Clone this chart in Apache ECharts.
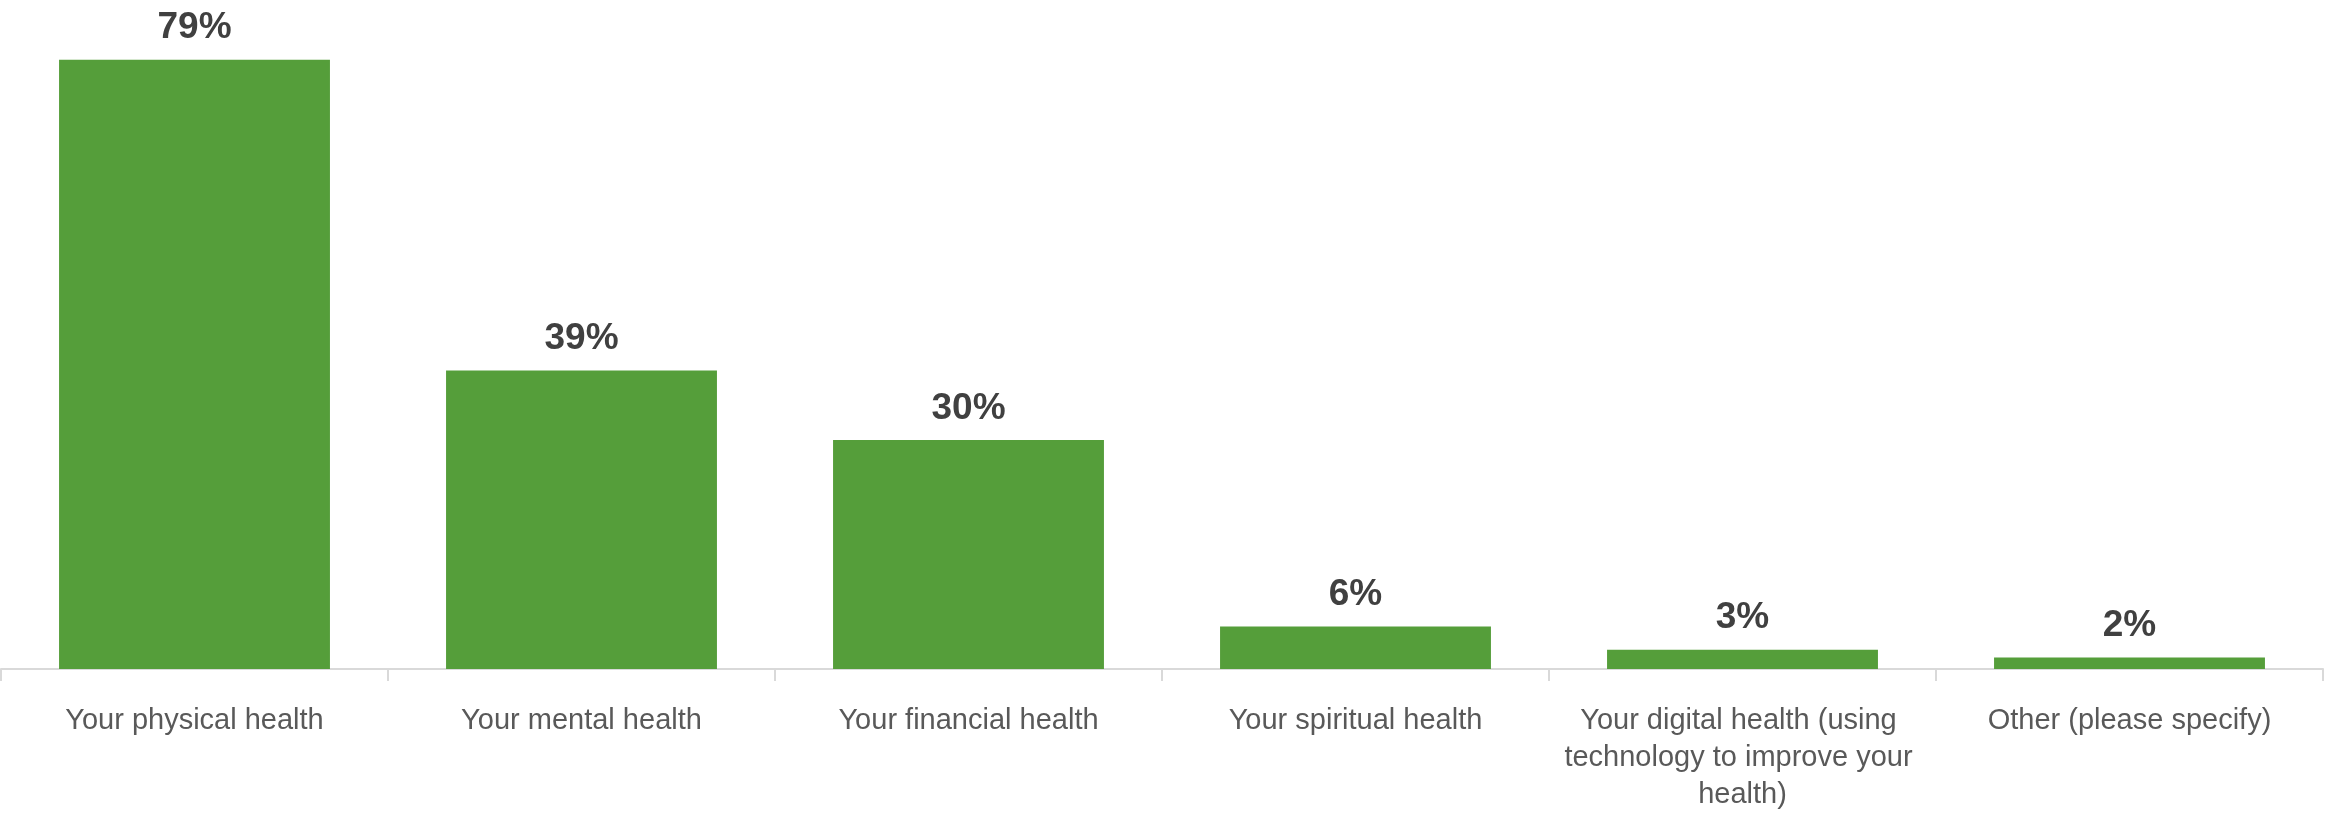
<!DOCTYPE html>
<html>
<head>
<meta charset="utf-8">
<script src="https://cdn.jsdelivr.net/npm/echarts@6/dist/echarts.min.js"></script>
<style>
html,body{margin:0;padding:0;background:#fff;}
#chart{width:2325px;height:813px;}
</style>
</head>
<body>
<div id="chart"></div>
<script>
const categories = [
  "Your physical health",
  "Your mental health",
  "Your financial health",
  "Your spiritual health",
  "Your digital health (using technology to improve your health)",
  "Other (please specify)"
];
const values = [79.0, 38.7, 29.7, 5.5, 2.5, 1.5];

const chart = echarts.init(document.getElementById('chart'));
chart.setOption({
  animation: false,
  backgroundColor: '#ffffff',
  grid: { left: 1, right: 2, top: 52, bottom: 134, containLabel: false },
  xAxis: {
    type: 'category',
    data: categories,
    axisLine: { show: true, lineStyle: { color: '#d9d9d9', width: 2 } },
    axisTick: { show: true, length: 12, lineStyle: { color: '#d9d9d9', width: 2 } },
    axisLabel: {
      interval: 0,
      margin: 33,
      fontFamily: 'Liberation Sans',
      fontSize: 29,
      lineHeight: 37,
      color: '#595959',
      width: 380,
      overflow: 'break'
    }
  },
  yAxis: {
    type: 'value',
    min: 0,
    max: 80,
    show: false,
    splitLine: { show: false }
  },
  series: [{
    type: 'bar',
    data: values,
    barCategoryGap: '30%',
    itemStyle: { color: '#559e3a' },
    label: {
      show: true,
      position: 'top',
      distance: 13,
      formatter: function (p) { return Math.round(p.value) + '%'; },
      fontFamily: 'Liberation Sans',
      fontWeight: 'bold',
      fontSize: 37,
      color: '#404040'
    }
  }]
});
</script>
</body>
</html>
